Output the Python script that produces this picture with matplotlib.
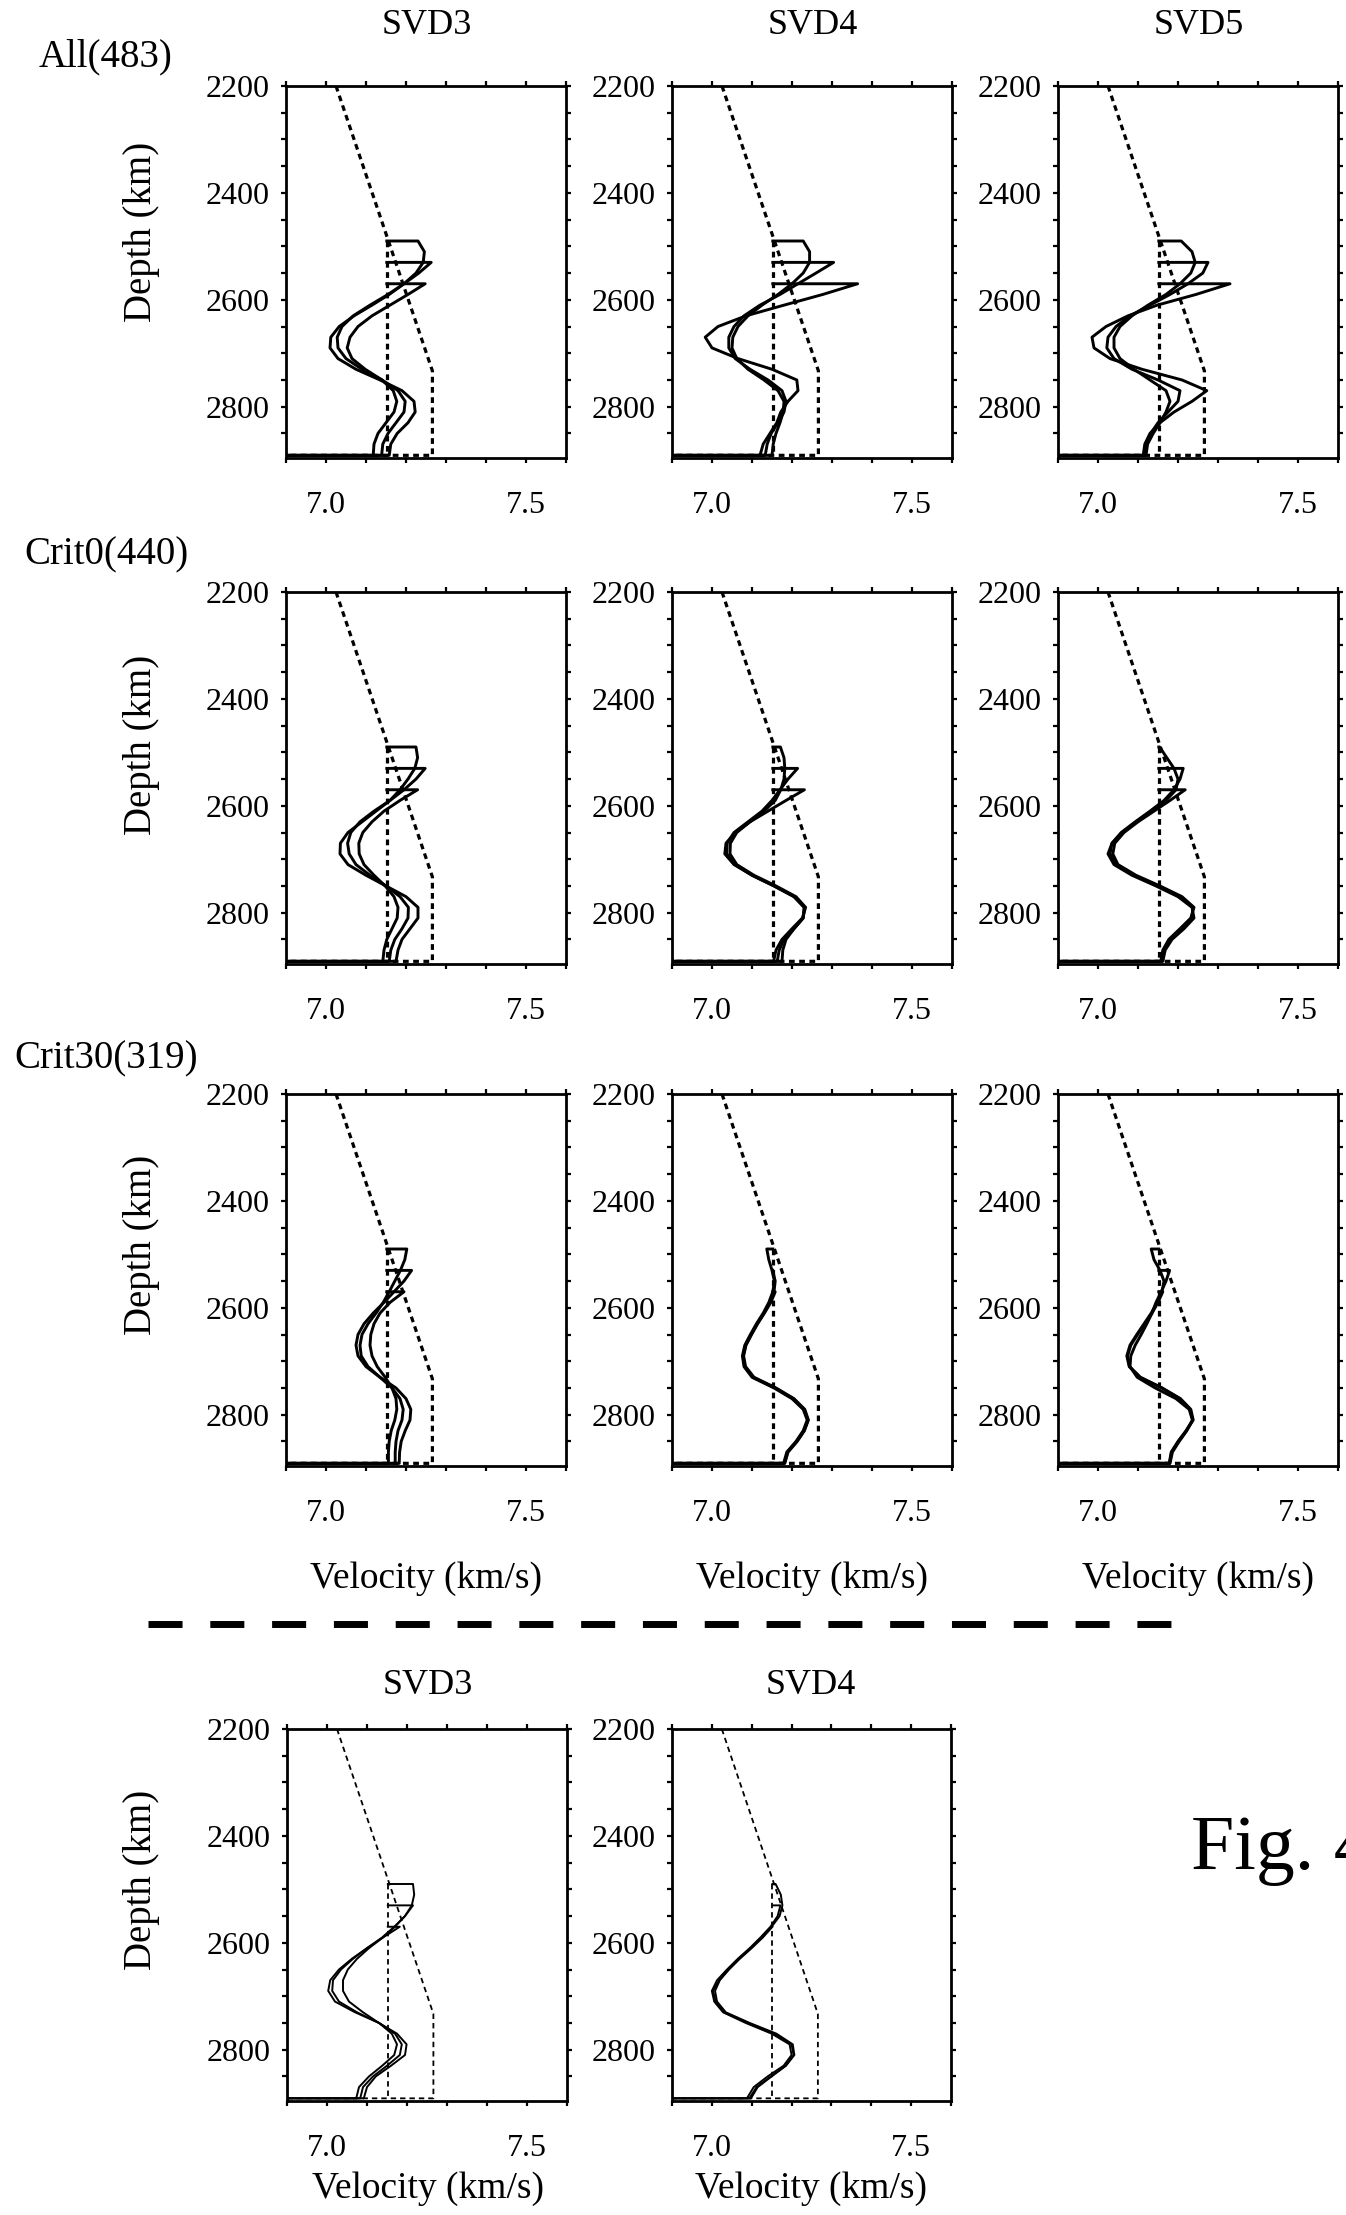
import matplotlib
matplotlib.use('Agg')
import matplotlib.pyplot as plt
from matplotlib.lines import Line2D
from matplotlib.ticker import FixedLocator, MultipleLocator, FormatStrFormatter

plt.rcParams['font.family'] = ['Liberation Serif', 'DejaVu Serif']

N = None
# depth grid (km) on which the resolved models were read
DEPTHS = [2490, 2510, 2530, 2550, 2570, 2590, 2610, 2630, 2650, 2670, 2690,
          2710, 2730, 2750, 2770, 2790, 2810, 2830, 2850, 2870, 2891]
CMB = 2891

# dotted reference models
MODEL_A_V = [7.025, 7.266, 7.266, 6.85]
MODEL_A_D = [2200, 2733, 2891, 2891]
MODEL_B_V = [7.152, 7.152]
MODEL_B_D = [2490, 2891]

ALL_SVD3 = [
    [7.230, 7.246, 7.243, 7.225, 7.195, 7.158, 7.115, 7.070, 7.033, 7.012, 7.010,
     7.030, 7.075, 7.135, 7.190, 7.220, 7.223, 7.205, 7.178, 7.162, 7.158],
    [N, N, 7.263, 7.232, 7.195, 7.155, 7.110, 7.068, 7.040, 7.028, 7.030,
     7.050, 7.090, 7.140, 7.180, 7.198, 7.195, 7.175, 7.155, 7.142, 7.139],
    [N, N, N, N, 7.248, 7.205, 7.160, 7.115, 7.080, 7.060, 7.053,
     7.065, 7.098, 7.140, 7.168, 7.177, 7.170, 7.150, 7.130, 7.120, 7.118],
]
ALL_SVD4 = [
    [7.228, 7.244, 7.244, 7.228, 7.200, 7.165, 7.125, 7.090, 7.065, 7.052, 7.050,
     7.062, 7.090, 7.130, 7.165, 7.180, 7.178, 7.170, 7.160, 7.153, 7.150],
    [N, N, 7.304, 7.260, 7.215, 7.170, 7.120, 7.080, 7.055, 7.042, 7.042,
     7.058, 7.095, 7.140, 7.175, 7.185, 7.180, 7.165, 7.148, 7.138, 7.133],
    [N, N, N, N, 7.364, 7.277, 7.180, 7.085, 7.015, 6.983, 7.000,
     7.065, 7.150, 7.212, 7.215, 7.190, 7.172, 7.162, 7.145, 7.128, 7.120],
]
ALL_SVD5 = [
    [7.208, 7.235, 7.243, 7.232, 7.205, 7.170, 7.125, 7.085, 7.055, 7.040, 7.040,
     7.055, 7.090, 7.130, 7.170, 7.180, 7.170, 7.155, 7.138, 7.124, 7.120],
    [N, N, 7.275, 7.262, 7.225, 7.180, 7.130, 7.080, 7.045, 7.025, 7.022,
     7.040, 7.085, 7.150, 7.205, 7.200, 7.175, 7.150, 7.132, 7.119, 7.115],
    [N, N, N, N, 7.330, 7.245, 7.148, 7.075, 7.020, 6.985, 6.990,
     7.030, 7.110, 7.210, 7.272, 7.235, 7.190, 7.155, 7.130, 7.117, 7.113],
]
CRIT0_SVD3 = [
    [7.225, 7.229, 7.222, 7.205, 7.185, 7.160, 7.125, 7.090, 7.055, 7.036, 7.035,
     7.055, 7.100, 7.150, 7.200, 7.230, 7.230, 7.210, 7.190, 7.180, 7.175],
    [N, N, 7.248, 7.225, 7.195, 7.160, 7.120, 7.085, 7.062, 7.054, 7.058,
     7.075, 7.110, 7.150, 7.185, 7.206, 7.205, 7.190, 7.172, 7.162, 7.158],
    [N, N, N, N, 7.229, 7.185, 7.145, 7.115, 7.092, 7.082, 7.083,
     7.095, 7.120, 7.148, 7.170, 7.180, 7.178, 7.165, 7.152, 7.145, 7.142],
]
CRIT0_SVD4 = [
    [7.171, 7.180, 7.182, 7.180, 7.172, 7.158, 7.130, 7.095, 7.058, 7.035, 7.032,
     7.055, 7.100, 7.155, 7.205, 7.230, 7.228, 7.205, 7.185, 7.177, 7.175],
    [N, N, 7.214, 7.190, 7.170, 7.150, 7.125, 7.090, 7.055, 7.038, 7.037,
     7.058, 7.100, 7.155, 7.205, 7.232, 7.228, 7.205, 7.180, 7.168, 7.163],
    [N, N, N, N, 7.231, 7.185, 7.140, 7.095, 7.062, 7.046, 7.045,
     7.062, 7.105, 7.160, 7.210, 7.234, 7.226, 7.200, 7.175, 7.160, 7.154],
]
CRIT0_SVD5 = [
    [7.154, 7.172, 7.190, 7.200, 7.195, 7.170, 7.135, 7.095, 7.060, 7.035, 7.025,
     7.040, 7.085, 7.145, 7.200, 7.235, 7.240, 7.215, 7.185, 7.168, 7.162],
    [N, N, 7.213, 7.205, 7.190, 7.165, 7.130, 7.093, 7.058, 7.035, 7.030,
     7.045, 7.090, 7.150, 7.205, 7.237, 7.235, 7.210, 7.180, 7.165, 7.160],
    [N, N, N, N, 7.218, 7.180, 7.140, 7.100, 7.065, 7.042, 7.037,
     7.050, 7.095, 7.155, 7.210, 7.240, 7.232, 7.205, 7.177, 7.162, 7.157],
]
CRIT30_SVD3 = [
    [7.202, 7.197, 7.186, 7.172, 7.158, 7.143, 7.125, 7.105, 7.090, 7.085, 7.088,
     7.105, 7.135, 7.165, 7.185, 7.193, 7.190, 7.180, 7.175, 7.173, 7.173],
    [N, N, 7.214, 7.195, 7.170, 7.145, 7.118, 7.095, 7.080, 7.075, 7.080,
     7.100, 7.135, 7.175, 7.200, 7.212, 7.210, 7.198, 7.188, 7.184, 7.183],
    [N, N, N, N, 7.195, 7.160, 7.135, 7.120, 7.112, 7.110, 7.115,
     7.128, 7.148, 7.165, 7.175, 7.177, 7.172, 7.163, 7.158, 7.156, 7.156],
]
CRIT30_SVD4 = [
    [7.137, 7.142, 7.150, 7.156, 7.152, 7.142, 7.128, 7.111, 7.096, 7.082, 7.076,
     7.080, 7.100, 7.155, 7.200, 7.228, 7.238, 7.228, 7.210, 7.187, 7.179],
    [N, N, 7.152, 7.158, 7.155, 7.145, 7.130, 7.113, 7.098, 7.084, 7.078,
     7.082, 7.103, 7.158, 7.203, 7.230, 7.240, 7.230, 7.212, 7.189, 7.181],
    [N, N, N, N, 7.158, 7.147, 7.131, 7.114, 7.099, 7.085, 7.079,
     7.084, 7.105, 7.160, 7.205, 7.232, 7.241, 7.231, 7.213, 7.190, 7.182],
]
CRIT30_SVD5 = [
    [7.133, 7.140, 7.155, 7.165, 7.160, 7.148, 7.133, 7.115, 7.097, 7.080, 7.072,
     7.078, 7.105, 7.160, 7.205, 7.230, 7.237, 7.220, 7.200, 7.183, 7.178],
    [N, N, 7.179, 7.170, 7.158, 7.145, 7.135, 7.122, 7.108, 7.093, 7.082,
     7.080, 7.098, 7.143, 7.195, 7.228, 7.236, 7.222, 7.203, 7.186, 7.180],
    [N, N, N, N, 7.162, 7.150, 7.135, 7.117, 7.099, 7.082, 7.074,
     7.079, 7.106, 7.160, 7.206, 7.232, 7.238, 7.221, 7.201, 7.184, 7.179],
]
EXTRA_SVD3 = [
    [7.215, 7.218, 7.212, 7.195, 7.170, 7.140, 7.100, 7.062, 7.030, 7.008, 7.003,
     7.020, 7.070, 7.130, 7.175, 7.199, 7.195, 7.160, 7.122, 7.100, 7.092],
    [N, N, 7.215, 7.195, 7.168, 7.138, 7.100, 7.065, 7.035, 7.015, 7.013,
     7.030, 7.075, 7.130, 7.170, 7.187, 7.182, 7.150, 7.115, 7.090, 7.083],
    [N, N, N, N, 7.182, 7.140, 7.105, 7.075, 7.052, 7.040, 7.040,
     7.055, 7.090, 7.130, 7.162, 7.175, 7.168, 7.138, 7.105, 7.080, 7.073],
]
EXTRA_SVD4 = [
    [7.160, 7.173, 7.177, 7.170, 7.150, 7.125, 7.097, 7.068, 7.042, 7.018, 7.003,
     7.010, 7.030, 7.090, 7.155, 7.200, 7.205, 7.185, 7.148, 7.112, 7.094],
    [N, N, 7.172, 7.165, 7.147, 7.122, 7.095, 7.065, 7.038, 7.013, 7.000,
     7.006, 7.028, 7.085, 7.150, 7.195, 7.200, 7.180, 7.140, 7.105, 7.088],
    [N, N, N, N, 7.152, 7.128, 7.100, 7.070, 7.043, 7.020, 7.008,
     7.013, 7.035, 7.095, 7.162, 7.203, 7.207, 7.186, 7.150, 7.115, 7.098],
]

ROW_LABELS = ['All(483)', 'Crit0(440)', 'Crit30(319)']
COL_TITLES = ['SVD3', 'SVD4', 'SVD5']
XTICKS = [7.0, 7.5]

W, H = 1346, 2215


def rect(left, top, width=280, height=372):
    return [left / W, 1 - (top + height) / H, width / W, height / H]


def fxy(x, y):
    return x / W, 1 - y / H


def panel(fig, r, curves, thin=False):
    ax = fig.add_axes(r)
    if thin:
        lw, dlw, dash = 1.4, 1.3, (3.0, 2.2)
    else:
        lw, dlw, dash = 2.1, 2.3, (1.8, 1.4)
    ax.plot(MODEL_A_V, MODEL_A_D, color='k', lw=dlw, dashes=dash)
    ax.plot(MODEL_B_V, MODEL_B_D, color='k', lw=dlw, dashes=dash)
    for c in curves:
        d = [DEPTHS[i] for i, v in enumerate(c) if v is not None]
        v = [x for x in c if x is not None]
        ax.plot([MODEL_B_V[0]] + v + [6.85], [d[0]] + d + [CMB],
                color='k', lw=lw, solid_joinstyle='round')
    ax.set_xlim(6.9, 7.6)
    ax.set_ylim(2896, 2200)
    ax.xaxis.set_major_locator(FixedLocator(XTICKS))
    ax.xaxis.set_minor_locator(MultipleLocator(0.1))
    ax.xaxis.set_major_formatter(FormatStrFormatter('%.1f'))
    ax.yaxis.set_major_locator(MultipleLocator(200))
    ax.yaxis.set_minor_locator(MultipleLocator(50))
    ax.tick_params(which='both', direction='out', top=True, right=True,
                   length=3.5, width=1.6)
    ax.tick_params(axis='y', labelsize=23, pad=8)
    ax.tick_params(axis='x', labelsize=23, pad=20)
    for s in ax.spines.values():
        s.set_linewidth(2)
    return ax


fig = plt.figure(figsize=(13.46, 22.15), dpi=100)

grid = [[ALL_SVD3, ALL_SVD4, ALL_SVD5],
        [CRIT0_SVD3, CRIT0_SVD4, CRIT0_SVD5],
        [CRIT30_SVD3, CRIT30_SVD4, CRIT30_SVD5]]
lefts = [286, 672, 1058]
tops = [86, 592, 1094]
label_y = [57, 555, 1059]
depth_y = [232, 745, 1245]

for i in range(3):
    for j in range(3):
        panel(fig, rect(lefts[j], tops[i]), grid[i][j])
    fig.text(*fxy(106, label_y[i]), ROW_LABELS[i], fontsize=28,
             ha='center', va='center')
    fig.text(*fxy(141, depth_y[i]), 'Depth (km)', fontsize=28,
             rotation=90, ha='center', va='center')

for j in range(3):
    fig.text(*fxy(lefts[j] + 141, 25), COL_TITLES[j], fontsize=26,
             ha='center', va='center')
    fig.text(*fxy(lefts[j] + 140, 1579), 'Velocity (km/s)', fontsize=27,
             ha='center', va='center')

# separator
fig.add_artist(Line2D([148 / W, 1193 / W], [1 - 1624 / H] * 2,
                      transform=fig.transFigure, color='k', lw=5,
                      dashes=(4.9, 4.0)))

# bottom row
panel(fig, rect(287, 1729), EXTRA_SVD3, thin=True)
panel(fig, rect(672, 1729, 279), EXTRA_SVD4, thin=True)
for x, t in [(428, 'SVD3'), (811, 'SVD4')]:
    fig.text(*fxy(x, 1685), t, fontsize=26, ha='center', va='center')
    fig.text(*fxy(x, 2189), 'Velocity (km/s)', fontsize=27,
             ha='center', va='center')
fig.text(*fxy(141, 1880), 'Depth (km)', fontsize=28, rotation=90,
         ha='center', va='center')

fig.text(*fxy(1191, 1850), 'Fig. 4', fontsize=56, ha='left', va='center')

fig.savefig('out.png', dpi=100)
